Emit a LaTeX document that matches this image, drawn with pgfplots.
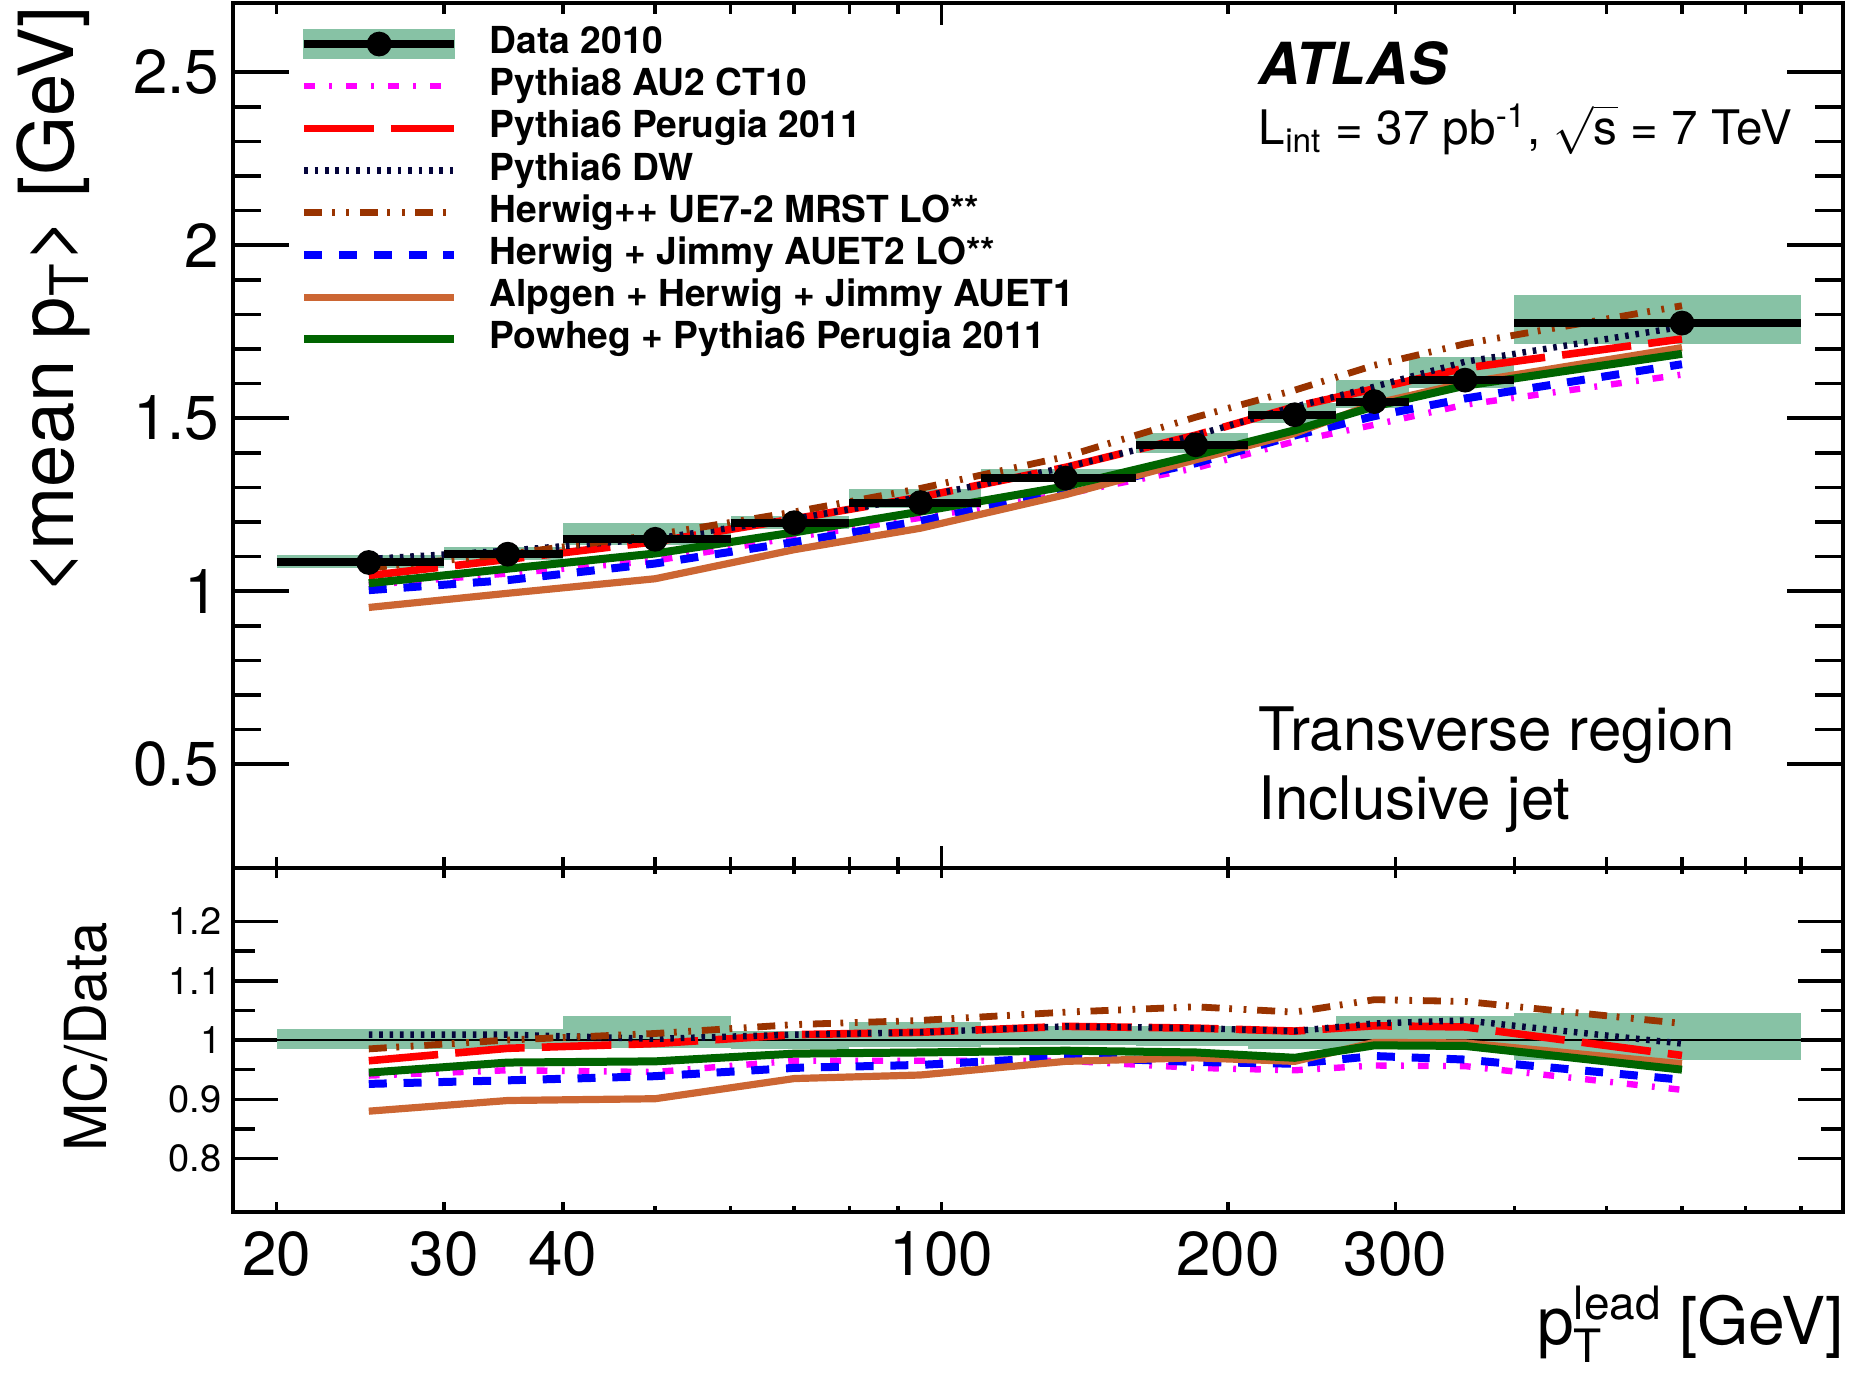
\documentclass[border=0pt]{standalone}
\usepackage{fontspec}
\setmainfont{TeX Gyre Heros}
\usepackage{pgfplots}
\pgfplotsset{compat=1.18}

\definecolor{bandgreen}{RGB}{135,194,165}
\definecolor{magc}{RGB}{255,0,255}
\definecolor{redc}{RGB}{255,0,0}
\definecolor{navyc}{RGB}{5,5,60}
\definecolor{brownc}{RGB}{153,51,0}
\definecolor{bluec}{RGB}{0,0,255}
\definecolor{orangec}{RGB}{204,102,51}
\definecolor{greenc}{RGB}{0,100,0}

\tikzset{
  lpy8/.style={color=magc, line width=1.6pt, dash pattern=on 2.7pt off 3.6pt on 0.7pt off 3.5pt},
  lp11/.style={color=redc, line width=1.9pt, dash pattern=on 17.4pt off 4.3pt},
  ldw/.style={color=navyc, line width=1.6pt, dash pattern=on 0.9pt off 1.7pt},
  lhpp/.style={color=brownc, line width=1.7pt, dash pattern=on 4.5pt off 2.4pt on 0.7pt off 2.9pt on 0.7pt off 2.7pt},
  lhj/.style={color=bluec, line width=2pt, dash pattern=on 4.5pt off 4.2pt},
  lalp/.style={color=orangec, line width=1.8pt},
  lpow/.style={color=greenc, line width=2pt},
  bandfill/.style={fill=bandgreen, draw=none},
}

\begin{document}
\begin{tikzpicture}
\useasboundingbox (0,0) rectangle (462.5pt,343pt);

% ---------------- main panel: x ticks only ----------------
\begin{axis}[
  scale only axis, width=402.5pt, height=216.25pt,
  at={(58.25pt,126pt)}, anchor=south west,
  xmode=log, xmin=18, xmax=886, ymin=0.2, ymax=2.7,
  ytick=\empty, xtick={100}, xticklabels={},
  minor xtick={20,30,40,50,60,70,80,90,200,300,400,500,600,700,800},
  tick align=inside, axis line style={line width=1pt},
  tick style={line width=0.9pt, black},
  major tick length=5.5pt, minor tick length=2.75pt,
]
\end{axis}

% ---------------- main panel ----------------
\begin{axis}[
  scale only axis, width=402.5pt, height=216.25pt,
  at={(58.25pt,126pt)}, anchor=south west,
  xmode=log, xmin=18, xmax=886, ymin=0.2, ymax=2.7,
  xtick=\empty,
  ytick={0.5,1,1.5,2,2.5}, minor y tick num=4,
  tick align=inside, axis line style={line width=1pt},
  tick style={line width=0.9pt, black},
  major tick length=14pt, minor tick length=7pt,
  yticklabel style={font=\fontsize{15.5}{18}\selectfont, inner sep=0pt, xshift=-3.2pt},
  /pgf/number format/assume math mode=true,
  unbounded coords=jump,
  legend image code/.code={\draw[#1] (0pt,0pt) -- (37.5pt,0pt);},
  legend cell align=left,
  legend style={at={(0.0417,0.9722)}, anchor=north west, draw=none, fill=none,
    inner sep=0pt, outer sep=0pt, row sep=2.05pt, column sep=7.85pt,
    font=\fontsize{9.3}{10.5}\selectfont\bfseries,
    nodes={inner sep=0pt, text height=6.6pt, text depth=1.9pt}},
]
\addlegendimage{legend image code/.code={
  \fill[bandgreen] (0pt,-3.65pt) rectangle (37.5pt,3.65pt);
  \draw[black, line width=2pt] (0pt,0pt) -- (37.5pt,0pt);
  \fill[black] (18.75pt,0pt) circle (2.9pt);}}
\addlegendentry{Data 2010}
\addlegendimage{lpy8}\addlegendentry{Pythia8 AU2 CT10}
\addlegendimage{lp11}\addlegendentry{Pythia6 Perugia 2011}
\addlegendimage{ldw}\addlegendentry{Pythia6 DW}
\addlegendimage{lhpp}\addlegendentry{Herwig++ UE7-2 MRST LO**}
\addlegendimage{lhj}\addlegendentry{Herwig + Jimmy AUET2 LO**}
\addlegendimage{lalp}\addlegendentry{Alpgen + Herwig + Jimmy AUET1}
\addlegendimage{lpow}\addlegendentry{Powheg + Pythia6 Perugia 2011}

% systematic band (one rectangle per bin)
\addplot[bandfill, forget plot] coordinates {(20,1.066) (30,1.066) (30,1.104) (20,1.104)} -- cycle;
\addplot[bandfill, forget plot] coordinates {(30,1.089) (40,1.089) (40,1.128) (30,1.128)} -- cycle;
\addplot[bandfill, forget plot] coordinates {(40,1.134) (60,1.134) (60,1.196) (40,1.196)} -- cycle;
\addplot[bandfill, forget plot] coordinates {(60,1.180) (80,1.180) (80,1.216) (60,1.216)} -- cycle;
\addplot[bandfill, forget plot] coordinates {(80,1.241) (110,1.241) (110,1.295) (80,1.295)} -- cycle;
\addplot[bandfill, forget plot] coordinates {(110,1.316) (160,1.316) (160,1.354) (110,1.354)} -- cycle;
\addplot[bandfill, forget plot] coordinates {(160,1.400) (210,1.400) (210,1.457) (160,1.457)} -- cycle;
\addplot[bandfill, forget plot] coordinates {(210,1.486) (260,1.486) (260,1.543) (210,1.543)} -- cycle;
\addplot[bandfill, forget plot] coordinates {(260,1.529) (310,1.529) (310,1.611) (260,1.611)} -- cycle;
\addplot[bandfill, forget plot] coordinates {(310,1.586) (400,1.586) (400,1.676) (310,1.676)} -- cycle;
\addplot[bandfill, forget plot] coordinates {(400,1.715) (800,1.715) (800,1.857) (400,1.857)} -- cycle;

% MC predictions
\addplot[lpy8, forget plot] coordinates {(25,1.018) (35,1.051) (50,1.088) (70,1.156) (95,1.212) (135,1.281) (185,1.356) (235,1.433) (285,1.481) (355,1.539) (600,1.626)};
\addplot[lp11, forget plot] coordinates {(25,1.045) (35,1.092) (50,1.143) (70,1.209) (95,1.272) (135,1.358) (185,1.451) (235,1.533) (285,1.585) (355,1.645) (600,1.729)};
\addplot[ldw, forget plot] coordinates {(25,1.093) (35,1.117) (50,1.152) (70,1.209) (95,1.272) (135,1.358) (185,1.451) (235,1.533) (285,1.591) (355,1.663) (600,1.764)};
\addplot[lhpp, forget plot] coordinates {(25,1.067) (35,1.107) (50,1.163) (70,1.229) (95,1.297) (135,1.389) (185,1.503) (235,1.581) (285,1.653) (355,1.715) (600,1.825)};
\addplot[lhj, forget plot] coordinates {(25,1.003) (35,1.032) (50,1.080) (70,1.142) (95,1.203) (135,1.289) (185,1.370) (235,1.450) (285,1.506) (355,1.557) (600,1.656)};
\addplot[lalp, forget plot] coordinates {(25,0.953) (35,0.994) (50,1.036) (70,1.120) (95,1.182) (135,1.279) (185,1.380) (235,1.456) (285,1.542) (355,1.602) (600,1.704)};
\addplot[lpow, forget plot] coordinates {(25,1.023) (35,1.065) (50,1.109) (70,1.170) (95,1.230) (135,1.303) (185,1.393) (235,1.465) (285,1.534) (355,1.594) (600,1.686)};

% data: bin widths and points
\addplot[black, line width=2pt, forget plot] coordinates {
 (20,1.083) (30,1.083) (30,nan)
 (30,1.107) (40,1.107) (40,nan)
 (40,1.150) (60,1.150) (60,nan)
 (60,1.198) (80,1.198) (80,nan)
 (80,1.256) (110,1.256) (110,nan)
 (110,1.327) (160,1.327) (160,nan)
 (160,1.423) (210,1.423) (210,nan)
 (210,1.510) (260,1.510) (260,nan)
 (260,1.548) (310,1.548) (310,nan)
 (310,1.610) (400,1.610) (400,nan)
 (400,1.775) (800,1.775)};
\addplot[black, only marks, mark=*, mark size=2.9pt, forget plot] coordinates {
 (25,1.083) (35,1.107) (50,1.150) (70,1.198) (95,1.256) (135,1.327)
 (185,1.423) (235,1.510) (285,1.548) (355,1.610) (600,1.775)};
\end{axis}

% ---------------- ratio panel ----------------
\begin{axis}[
  scale only axis, width=402.5pt, height=86pt,
  at={(58.25pt,40pt)}, anchor=south west,
  xmode=log, xmin=18, xmax=886, ymin=0.71, ymax=1.29,
  xtick=\empty,
  ytick={0.8,0.9,1,1.1,1.2}, minor y tick num=1,
  tick align=inside, axis line style={line width=1pt},
  tick style={line width=0.9pt, black},
  major tick length=11.2pt, minor tick length=5.6pt,
  yticklabel style={font=\fontsize{9.5}{11}\selectfont, inner sep=0pt, xshift=-2.7pt},
  /pgf/number format/assume math mode=true,
]
\addplot[bandfill, forget plot] coordinates {(20,0.984) (30,0.984) (30,1.019) (20,1.019)} -- cycle;
\addplot[bandfill, forget plot] coordinates {(30,0.984) (40,0.984) (40,1.019) (30,1.019)} -- cycle;
\addplot[bandfill, forget plot] coordinates {(40,0.986) (60,0.986) (60,1.040) (40,1.040)} -- cycle;
\addplot[bandfill, forget plot] coordinates {(60,0.985) (80,0.985) (80,1.015) (60,1.015)} -- cycle;
\addplot[bandfill, forget plot] coordinates {(80,0.988) (110,0.988) (110,1.031) (80,1.031)} -- cycle;
\addplot[bandfill, forget plot] coordinates {(110,0.992) (160,0.992) (160,1.024) (110,1.024)} -- cycle;
\addplot[bandfill, forget plot] coordinates {(160,0.990) (210,0.990) (210,1.024) (160,1.024)} -- cycle;
\addplot[bandfill, forget plot] coordinates {(210,0.984) (260,0.984) (260,1.022) (210,1.022)} -- cycle;
\addplot[bandfill, forget plot] coordinates {(260,0.988) (310,0.988) (310,1.041) (260,1.041)} -- cycle;
\addplot[bandfill, forget plot] coordinates {(310,0.985) (400,0.985) (400,1.041) (310,1.041)} -- cycle;
\addplot[bandfill, forget plot] coordinates {(400,0.966) (800,0.966) (800,1.046) (400,1.046)} -- cycle;
\addplot[black, line width=0.6pt, forget plot] coordinates {(18,1) (886,1)};

\addplot[lpy8, forget plot] coordinates {(25,0.940) (35,0.949) (50,0.946) (70,0.965) (95,0.965) (135,0.965) (185,0.953) (235,0.949) (285,0.957) (355,0.956) (600,0.916)};
\addplot[lp11, forget plot] coordinates {(25,0.965) (35,0.986) (50,0.994) (70,1.009) (95,1.013) (135,1.023) (185,1.020) (235,1.015) (285,1.024) (355,1.022) (600,0.974)};
\addplot[ldw, forget plot] coordinates {(25,1.009) (35,1.009) (50,1.002) (70,1.009) (95,1.013) (135,1.023) (185,1.020) (235,1.015) (285,1.028) (355,1.033) (600,0.994)};
\addplot[lhpp, forget plot] coordinates {(25,0.985) (35,1.000) (50,1.011) (70,1.026) (95,1.033) (135,1.047) (185,1.056) (235,1.047) (285,1.068) (355,1.065) (600,1.028)};
\addplot[lhj, forget plot] coordinates {(25,0.926) (35,0.932) (50,0.939) (70,0.953) (95,0.958) (135,0.971) (185,0.963) (235,0.960) (285,0.973) (355,0.967) (600,0.933)};
\addplot[lalp, forget plot] coordinates {(25,0.880) (35,0.898) (50,0.901) (70,0.935) (95,0.941) (135,0.964) (185,0.970) (235,0.964) (285,0.996) (355,0.995) (600,0.960)};
\addplot[lpow, forget plot] coordinates {(25,0.945) (35,0.962) (50,0.964) (70,0.977) (95,0.979) (135,0.982) (185,0.979) (235,0.970) (285,0.991) (355,0.990) (600,0.950)};
\end{axis}

% ---------------- ratio panel: x ticks and labels ----------------
\begin{axis}[
  scale only axis, width=402.5pt, height=86pt,
  at={(58.25pt,40pt)}, anchor=south west,
  xmode=log, xmin=18, xmax=886, ymin=0.71, ymax=1.29,
  ytick=\empty,
  xtick={20,30,40,100,200,300},
  xticklabels={20,30,40,100,200,300},
  minor xtick={50,60,70,80,90,400,500,600,700,800},
  tick align=inside, axis line style={line width=1pt},
  tick style={line width=0.9pt, black},
  major tick length=2.4pt, minor tick length=1.4pt,
  xticklabel style={font=\fontsize{15.5}{18}\selectfont, inner sep=0pt, yshift=-4.7pt},
  /pgf/number format/assume math mode=true,
]
\end{axis}

% ---------------- labels and texts ----------------
\node[rotate=90, anchor=base east, inner sep=0pt, font=\fontsize{19}{22}\selectfont]
  at (18.3pt,341.5pt) {<mean p\textsubscript{T}> [GeV]};
\node[rotate=90, anchor=base, inner sep=0pt, font=\fontsize{14.5}{17}\selectfont]
  at (26.6pt,83.75pt) {MC/Data};
\node[anchor=base east, inner sep=0pt, font=\fontsize{16.5}{20}\selectfont]
  at (461.25pt,7pt) {p\rlap{\raisebox{-4.5pt}{\fontsize{11.5}{13}\selectfont T}}\raisebox{6.2pt}{\fontsize{11.5}{13}\selectfont lead} [GeV]};
\node[anchor=base west, inner sep=0pt, font=\fontsize{14.5}{17}\selectfont\bfseries\itshape]
  at (314.5pt,321.75pt) {ATLAS};
\node[anchor=base west, inner sep=0pt, font=\fontsize{11.9}{15}\selectfont]
  at (314.5pt,306.75pt) {L\textsubscript{int} = 37 pb\textsuperscript{-1}, $\sqrt{\mbox{s}}$ = 7 TeV};
\node[anchor=base west, inner sep=0pt, font=\fontsize{15}{18}\selectfont]
  at (314.5pt,155.5pt) {Transverse region};
\node[anchor=base west, inner sep=0pt, font=\fontsize{15}{18}\selectfont]
  at (314.5pt,138.25pt) {Inclusive jet};
\end{tikzpicture}
\end{document}
